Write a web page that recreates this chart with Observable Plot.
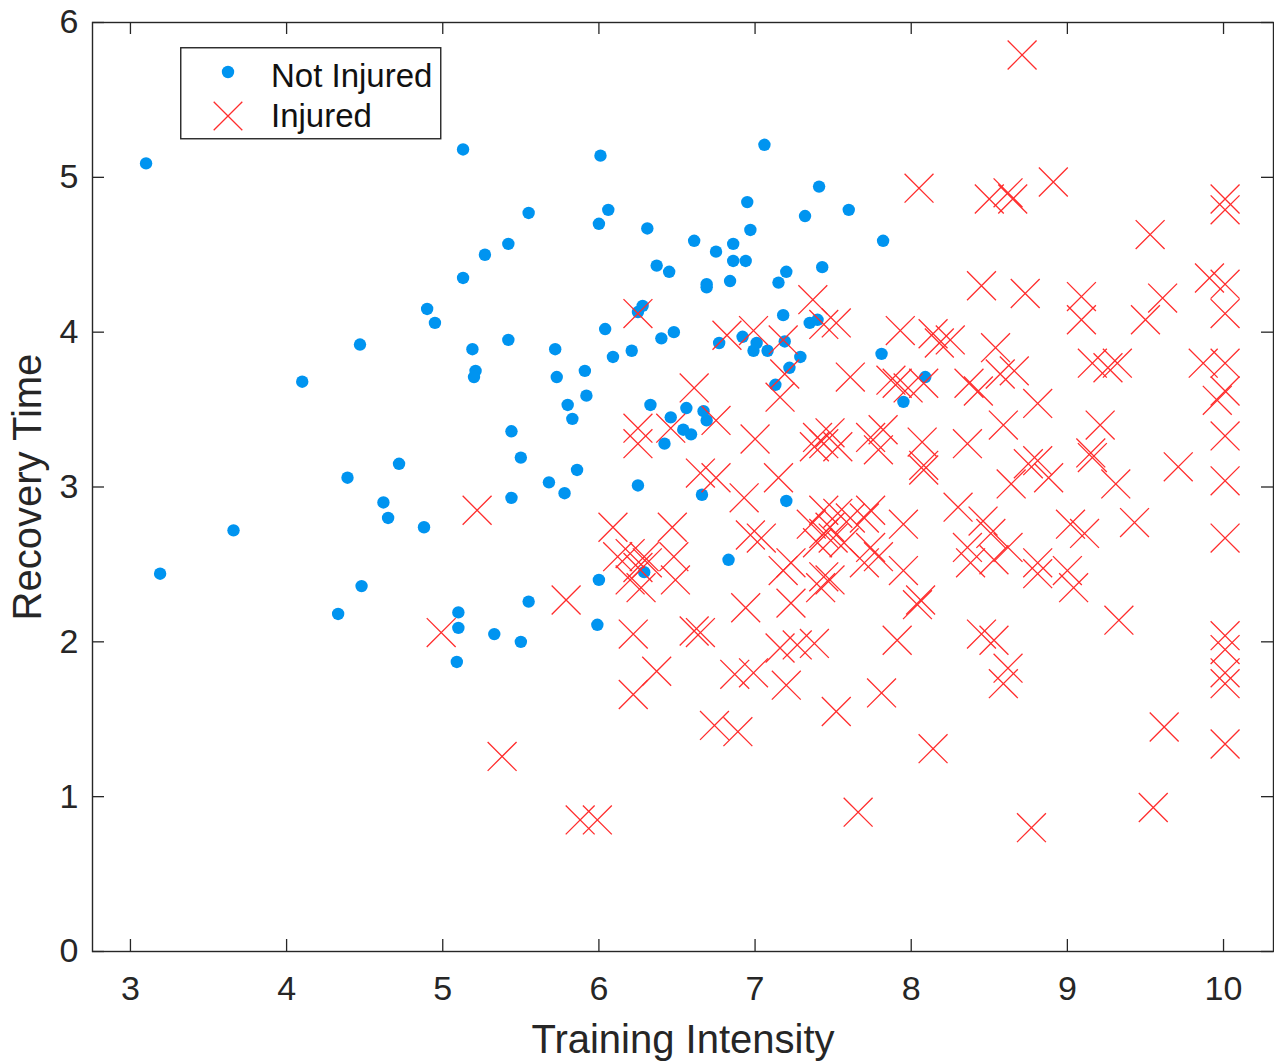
<!DOCTYPE html>
<html><head><meta charset="utf-8">
<script src="https://cdn.jsdelivr.net/npm/d3@7"></script>
<script src="https://cdn.jsdelivr.net/npm/@observablehq/plot@0.6"></script>
<style>
body{margin:0;background:#fff;}
#wrap{position:relative;width:1274px;height:1062px;}
#legend{position:absolute;left:180px;top:47px;}
</style></head><body><div id="wrap"></div>
<script>
const notInjuredX = [3.10,3.19,3.66,4.10,4.33,4.39,4.47,4.48,4.62,4.65,4.72,4.88,4.90,4.95,5.09,5.10,5.10,5.13,5.13,5.19,5.21,5.20,5.27,5.33,5.42,5.42,5.44,5.44,5.50,5.50,5.55,5.55,5.68,5.72,5.73,5.78,5.80,5.83,5.86,5.91,5.92,6.01,6.00,6.00,5.99,6.04,6.06,6.09,6.21,6.25,6.25,6.28,6.29,6.31,6.33,6.37,6.42,6.45,6.48,6.46,6.54,6.56,6.59,6.61,6.66,6.67,6.69,6.69,6.69,6.75,6.77,6.83,6.86,6.84,6.86,6.92,6.94,6.95,6.97,6.99,7.01,7.06,7.08,7.13,7.15,7.18,7.20,7.19,7.20,7.22,7.29,7.32,7.35,7.40,7.41,7.43,7.60,7.81,7.82,7.95,8.09,6.40];
const notInjuredY = [5.09,2.44,2.72,3.68,2.18,3.06,3.92,2.36,2.90,2.80,3.15,2.74,4.15,4.06,1.87,2.19,2.09,5.18,4.35,3.89,3.75,3.71,4.50,2.05,4.57,3.95,3.36,2.93,3.19,2.00,4.77,2.26,3.03,3.89,3.71,2.96,3.53,3.44,3.11,3.75,3.59,5.14,4.70,2.40,2.11,4.02,4.79,3.84,3.88,3.01,4.13,4.17,2.45,4.67,3.53,4.43,3.28,4.39,4.00,3.45,3.37,3.51,3.34,4.59,2.95,3.49,4.31,4.29,3.43,4.52,3.93,2.53,4.57,4.33,4.46,3.97,4.46,4.84,4.66,3.88,3.93,5.21,3.88,3.66,4.32,4.11,4.39,3.94,2.91,3.77,3.84,4.75,4.06,4.08,4.94,4.42,4.79,3.86,4.59,3.55,3.71,3.96];

const injuredX = [4.99,5.22,5.38,5.79,5.88,5.99,6.09,6.12,6.20,6.29,6.25,6.31,6.20,6.27,6.47,6.48,6.49,6.22,6.22,6.37,6.25,6.25,6.25,6.46,6.61,6.65,6.75,6.61,6.65,6.75,6.74,6.89,6.87,6.99,6.93,6.94,6.97,7.04,7.00,6.82,6.99,7.18,7.16,7.19,7.20,7.15,7.23,7.18,7.23,7.16,7.27,7.38,7.52,7.66,7.81,7.37,7.44,7.52,7.61,7.40,7.44,7.48,7.53,7.38,7.74,7.79,7.82,7.91,7.44,7.53,7.61,7.48,7.36,7.70,7.74,7.44,7.50,7.57,7.40,7.74,7.79,7.70,7.95,7.44,7.48,7.42,7.95,8.71,8.05,8.50,8.62,8.65,8.91,10.01,10.01,9.53,8.45,8.73,9.09,9.09,9.61,9.91,10.01,10.01,9.50,7.93,8.14,8.25,8.18,8.54,7.87,7.98,8.08,8.37,8.43,8.66,8.57,8.81,9.16,9.32,9.26,9.87,10.01,10.01,9.96,8.59,9.21,8.07,8.36,10.01,8.08,8.08,8.75,8.81,8.64,8.88,9.15,9.16,9.31,9.71,10.01,8.30,8.46,8.51,9.02,9.11,9.43,10.01,8.36,8.38,8.53,8.62,8.81,8.81,9.00,9.04,8.04,8.06,9.33,7.91,8.45,8.53,10.01,8.62,8.59,8.14,8.77,9.62,9.55,10.01,10.01,10.01,10.01];
const injuredY = [2.06,2.85,1.26,2.27,0.85,0.85,2.74,2.55,2.57,2.55,2.48,2.51,2.40,2.35,2.74,2.55,2.40,2.05,1.66,1.81,3.38,3.28,4.12,3.38,3.64,3.09,3.06,2.07,2.06,3.43,1.46,1.42,1.79,1.80,2.93,2.22,2.69,2.67,3.31,3.98,4.01,3.95,3.58,3.73,1.72,3.06,2.51,2.46,2.25,1.96,1.98,1.99,1.55,0.90,1.67,4.21,4.05,4.06,3.71,3.32,3.28,3.35,3.26,3.26,3.32,3.24,3.37,3.67,2.85,2.83,2.80,2.74,2.76,2.80,2.85,2.70,2.67,2.64,2.64,2.61,2.55,2.51,2.76,2.42,2.40,2.35,2.46,5.79,4.93,4.86,4.90,4.86,4.97,4.86,4.79,4.63,4.30,4.25,4.23,4.08,4.22,4.35,4.31,4.12,4.08,4.01,3.99,3.95,3.93,3.90,3.69,3.64,3.67,3.67,3.62,3.75,3.73,3.54,3.80,3.80,3.77,3.80,3.80,3.62,3.56,3.40,3.40,3.29,3.28,3.33,3.14,3.11,3.15,3.17,3.02,3.06,3.22,3.19,3.02,3.13,3.04,2.87,2.78,2.70,2.76,2.70,2.77,2.67,2.61,2.51,2.53,2.61,2.51,2.44,2.46,2.35,2.24,2.27,2.14,2.01,2.05,2.01,2.04,1.83,1.73,1.31,0.80,1.45,0.93,1.95,1.80,1.73,1.34];

const xTicks = [3,4,5,6,7,8,9,10];
const yTicks = [0,1,2,3,4,5,6];
const xLabel = "Training Intensity";
const yLabel = "Recovery Time";
const seriesNames = ["Not Injured", "Injured"];

const blue = "#0094f0", red = "#ff2d2d", ink = "#262626";
const W = 1274, H = 1062, mL = 92, mR = 1, mT = 22, mB = 111;
const plotW = W - mL - mR, plotH = H - mT - mB;
const font = "'Liberation Sans', Arial, Helvetica, sans-serif";

const notInjured = notInjuredX.map((x, i) => ({x, y: notInjuredY[i]}));
const injured = injuredX.map((x, i) => ({x, y: injuredY[i]}));

const chart = Plot.plot({
  width: W, height: H,
  marginLeft: mL, marginRight: mR, marginTop: mT, marginBottom: mB,
  style: {fontFamily: font, color: ink, background: "white", overflow: "visible"},
  x: {domain: [2.757, 10.32]},
  y: {domain: [0, 6]},
  marks: [
    Plot.dot(notInjured, {x: "x", y: "y", r: 6.2, fill: blue, stroke: "none"}),
    Plot.dot(injured, {x: "x", y: "y", r: 13.2, symbol: "times", stroke: red, strokeWidth: 1.3, fill: "none"}),
    Plot.tickX(xTicks, {x: d => d, insetTop: plotH - 12, stroke: ink, strokeWidth: 1.3}),
    Plot.tickX(xTicks, {x: d => d, insetBottom: plotH - 12, stroke: ink, strokeWidth: 1.3}),
    Plot.tickY(yTicks, {y: d => d, insetRight: plotW - 12, stroke: ink, strokeWidth: 1.3}),
    Plot.tickY(yTicks, {y: d => d, insetLeft: plotW - 12, stroke: ink, strokeWidth: 1.3}),
    Plot.frame({stroke: ink, strokeWidth: 1.4}),
    Plot.axisX(xTicks, {anchor: "bottom", tickSize: 0, tickPadding: 24, fontSize: 34, label: null, fill: ink, tickFormat: d => String(d)}),
    Plot.axisY(yTicks, {anchor: "left", tickSize: 0, tickPadding: 14, fontSize: 34, label: null, fill: ink, tickFormat: d => String(d)}),
    Plot.text([xLabel], {text: d => d, frameAnchor: "bottom", textAnchor: "middle", lineAnchor: "middle", dy: 89, fontSize: 40, fill: ink}),
    Plot.text([yLabel], {text: d => d, frameAnchor: "left", textAnchor: "middle", lineAnchor: "middle", dx: -64, rotate: -90, fontSize: 40, fill: ink})
  ]
});

const wrap = document.getElementById("wrap");
wrap.appendChild(chart);

// legend (inside the axes, top-left)
const lg = d3.select(wrap).append("svg")
  .attr("id", "legend").attr("width", 263).attr("height", 94)
  .style("font-family", font);
lg.append("rect").attr("x", 0.75).attr("y", 0.75).attr("width", 260).attr("height", 91)
  .attr("fill", "white").attr("stroke", ink).attr("stroke-width", 1.4);
lg.append("circle").attr("cx", 48).attr("cy", 25).attr("r", 6.2).attr("fill", blue);
const h = 14.3;
lg.append("path").attr("d", `M${48-h},${69-h}L${48+h},${69+h}M${48-h},${69+h}L${48+h},${69-h}`)
  .attr("stroke", red).attr("stroke-width", 1.3).attr("fill", "none");
lg.append("text").attr("x", 91).attr("y", 40).attr("font-size", 33).attr("fill", "#111").text(seriesNames[0]);
lg.append("text").attr("x", 91).attr("y", 80).attr("font-size", 33).attr("fill", "#111").text(seriesNames[1]);
</script>
</body></html>
